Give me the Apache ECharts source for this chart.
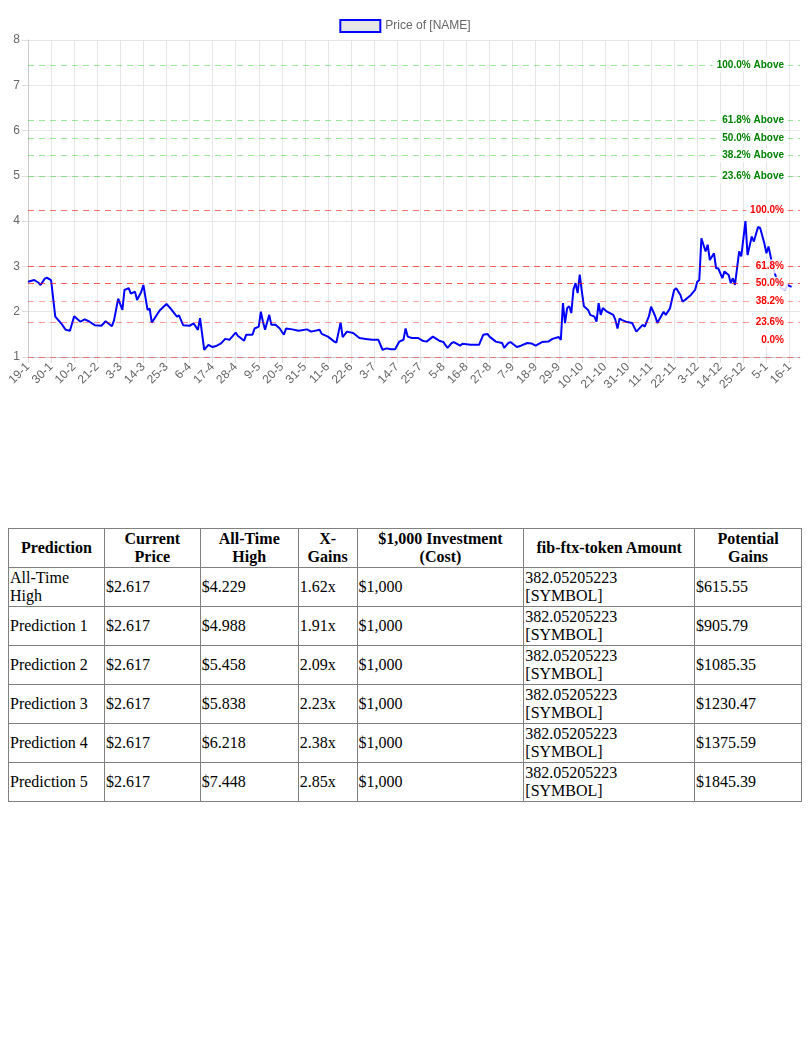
<!DOCTYPE html>
<html><head><meta charset="utf-8">
<script src="https://cdn.jsdelivr.net/npm/echarts@6/dist/echarts.min.js"></script>
<style>
body{margin:0;background:#fff;}
#c{position:absolute;left:0;top:0;width:810px;height:420px;}
table{position:absolute;left:8px;top:528px;width:794px;border-collapse:collapse;font-family:"Liberation Serif","Times New Roman",serif;font-size:16px;}
td,th{border:1px solid #808080;padding:0 1px;height:38px;line-height:18px;text-align:left;}
th{text-align:center;font-weight:bold;}
</style></head><body>
<div id="c"></div>
<table id="t"></table>
<script>
// start date and number of category days
const startDate = [2024, 0, 19];
const dayCount = 369;
const skippedDay = '31-3';
const repeatedDay = '27-10';
// price readings: [day index, price]
const priceDays = [0,3,5,6,8,9,11,13,16,18,20,22,25,27,29,32,35,37,40,41,43,45,46,48,49,51,52,54,55,57,58,59,62,63,66,68,71,72,74,77,79,81,82,84,86,88,90,92,94,96,99,100,103,104,107,108,110,111,112,113,115,116,118,120,122,123,126,129,133,135,139,140,143,146,147,149,150,152,155,158,161,164,167,169,171,173,175,177,179,180,181,183,186,188,190,193,196,198,200,202,203,206,207,211,215,217,219,220,223,226,227,229,230,233,235,238,240,242,245,248,250,253,254,255,256,257,258,259,260,261,262,263,264,265,267,268,270,271,272,273,274,276,279,280,281,282,283,285,288,290,293,294,296,297,299,300,303,304,306,308,309,311,312,314,316,318,319,320,321,323,324,325,327,328,329,331,332,334,335,336,337,339,340,342,343,345,346,348,349,351,352,353,355,357,359,361,362,364];
const priceValues = [2.66,2.70,2.64,2.59,2.73,2.75,2.70,1.89,1.73,1.60,1.58,1.90,1.78,1.83,1.79,1.70,1.69,1.79,1.68,1.81,2.29,2.04,2.48,2.52,2.40,2.44,2.26,2.44,2.59,2.04,2.07,1.76,1.97,2.04,2.17,2.07,1.89,1.92,1.70,1.69,1.74,1.60,1.86,1.16,1.27,1.22,1.25,1.30,1.40,1.38,1.54,1.47,1.36,1.49,1.49,1.63,1.67,2.0,1.78,1.60,1.93,1.71,1.71,1.63,1.49,1.63,1.61,1.58,1.61,1.56,1.60,1.51,1.45,1.34,1.32,1.76,1.44,1.56,1.53,1.42,1.40,1.38,1.38,1.16,1.19,1.17,1.17,1.34,1.38,1.63,1.45,1.42,1.42,1.36,1.34,1.45,1.36,1.33,1.20,1.31,1.33,1.25,1.29,1.27,1.27,1.49,1.51,1.45,1.34,1.31,1.20,1.31,1.33,1.22,1.25,1.31,1.30,1.25,1.33,1.34,1.40,1.44,1.38,2.19,1.75,2.08,2.12,1.97,2.49,2.63,2.41,2.82,2.45,2.12,2.04,1.93,1.89,1.78,2.19,1.93,2.08,2.00,1.93,1.82,1.63,1.85,1.82,1.78,1.75,1.56,1.71,1.67,1.90,2.11,1.90,1.75,2.00,1.93,2.07,2.48,2.52,2.37,2.22,2.29,2.37,2.48,2.66,2.70,3.62,3.33,3.48,3.14,3.29,2.96,2.96,2.74,2.89,2.81,2.63,2.74,2.59,3.33,3.22,4.0,3.25,3.66,3.55,3.87,3.85,3.51,3.29,3.44,3.0,2.70,2.52,2.48,2.59,2.55];
// fibonacci levels
const fibLabels = ['100.0%','61.8%','50.0%','38.2%','23.6%','0.0%'];
const fibValues = [4.229,2.997,2.617,2.237,1.766,1.005];
const aboveLabels = ['100.0% Above','61.8% Above','50.0% Above','38.2% Above','23.6% Above'];
const aboveValues = [7.448,6.218,5.838,5.458,4.988];
// table
const tableHead = ['Prediction','Current Price','All-Time High','X-Gains','$1,000 Investment (Cost)','fib-ftx-token Amount','Potential Gains'];
const rowNames = ['All-Time High','Prediction 1','Prediction 2','Prediction 3','Prediction 4','Prediction 5'];
const currentPrice = '$2.617';
const highs = ['$4.229','$4.988','$5.458','$5.838','$6.218','$7.448'];
const xGains = ['1.62x','1.91x','2.09x','2.23x','2.38x','2.85x'];
const amount = '382.05205223 [SYMBOL]';
const gains = ['$615.55','$905.79','$1085.35','$1230.47','$1375.59','$1845.39'];

const cats = [];
let k = 0;
while (cats.length < dayCount) {
  const d = new Date(Date.UTC(startDate[0], startDate[1], startDate[2] + k));
  k++;
  const s = d.getUTCDate() + '-' + (d.getUTCMonth() + 1);
  if (s === skippedDay) continue;
  cats.push(s);
  if (s === repeatedDay && cats.length < dayCount) cats.push(s);
}
const pts = priceDays.map((d, i) => [d, priceValues[i]]);
const redAlpha = [0.55,0.6,0.65,0.35,0.4,0.4];
const fibLines = fibValues.map((v, i) => ({
  yAxis: v,
  lineStyle: {color: 'rgba(255,0,0,' + redAlpha[i] + ')'},
  label: {formatter: fibLabels[i], offset: i === 5 ? [0, -17] : [0, 0]}
}));
const aboveLines = aboveValues.map((v, i) => ({
  yAxis: v,
  lineStyle: {color: 'rgba(0,200,0,0.4)'},
  label: {formatter: aboveLabels[i], color: '#008000'}
}));

const chart = echarts.init(document.getElementById('c'));
chart.setOption({
  animation: false,
  legend: {top: 14, left: 'center', itemWidth: 40, itemHeight: 12, textStyle: {color: '#666', fontSize: 12},
    data: [{name: 'Price of [NAME]', icon: 'rect', itemStyle: {color: '#e6e6e6', borderColor: '#0000ff', borderWidth: 2}}]},
  grid: {left: 28, right: 10, top: 40, bottom: 63, containLabel: false},
  xAxis: {type: 'category', data: cats, boundaryGap: false,
    axisLine: {lineStyle: {color: '#ccc'}}, axisTick: {show: true, interval: 10, length: 6, lineStyle: {color: '#ddd'}},
    axisLabel: {interval: 10, rotate: 45, color: '#666', fontSize: 12, margin: 8},
    splitLine: {show: true, interval: 10, lineStyle: {color: '#e6e6e6'}}},
  yAxis: {type: 'value', min: 1, max: 8, interval: 1,
    axisLine: {show: true, lineStyle: {color: '#ccc'}}, axisTick: {show: true, length: 6, lineStyle: {color: '#ddd'}},
    axisLabel: {color: '#666', fontSize: 12, margin: 8},
    splitLine: {lineStyle: {color: '#e6e6e6'}}},
  series: [
    {name: 'Price of [NAME]', type: 'line', data: pts, showSymbol: false, symbol: 'none',
      lineStyle: {color: '#0000ff', width: 2}, itemStyle: {color: '#0000ff'}, z: 2},
    {name: 'fib', type: 'line', data: [], z: 5,
      markLine: {silent: true, symbol: 'none',
        lineStyle: {type: [6, 5], width: 1},
        label: {position: 'insideEnd', distance: 12, color: '#ff0000', fontSize: 10, fontWeight: 'bold',
          backgroundColor: 'rgba(255,255,255,0.85)', padding: [2, 4]},
        data: fibLines.concat(aboveLines)}}
  ]
});
let h = '<tr>' + tableHead.map(x => '<th>' + x + '</th>').join('') + '</tr>';
rowNames.forEach((r, i) => {
  h += '<tr><td>' + r + '</td><td>' + currentPrice + '</td><td>' + highs[i] + '</td><td>' + xGains[i] +
    '</td><td>$1,000</td><td>' + amount + '</td><td>' + gains[i] + '</td></tr>';
});
document.getElementById('t').innerHTML = h;
const widths = [96,96,98,59,167,171,107];
document.querySelectorAll('#t th').forEach((th, i) => th.style.width = (widths[i] - 3) + 'px');
</script></body></html>
